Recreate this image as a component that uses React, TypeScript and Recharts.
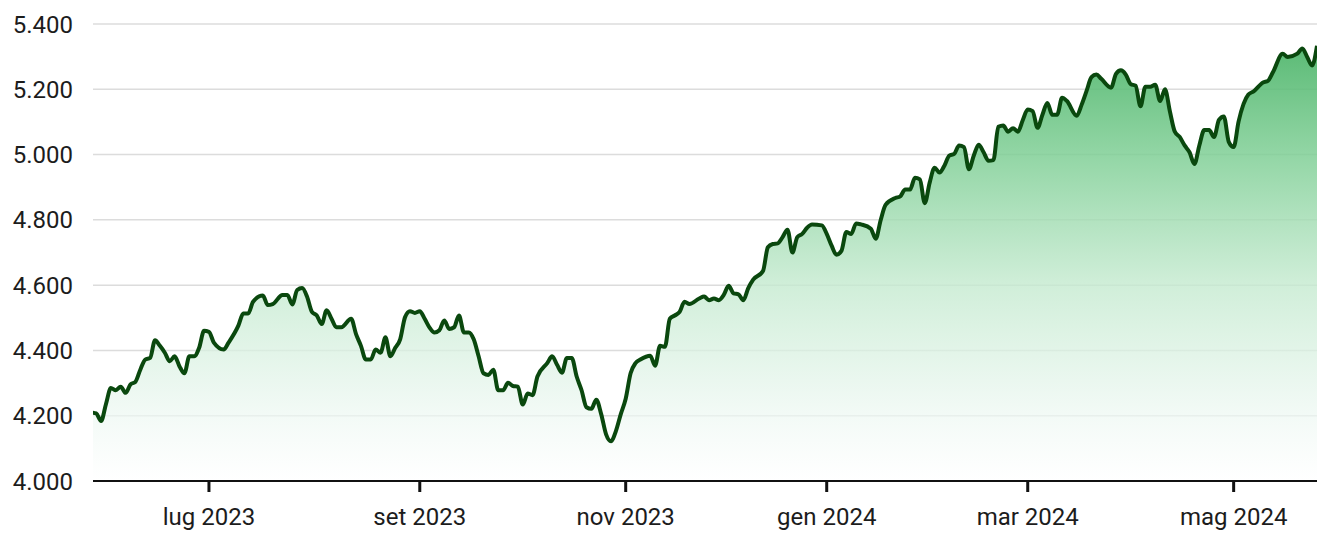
import { AreaChart, Area, XAxis, YAxis, CartesianGrid } from 'recharts';

// trading sessions counted from 3 Jul 2023 (session 0)
const sessions = [
  -24, -23, -22, -21, -20, -19, -18, -17, -16, -15, -14, -13, -12, -11, -10, -9, -8, -7, -6, -5,
  -4, -3, -2, -1, 0, 1, 3, 4, 6, 7, 8, 9, 11, 12, 13, 15, 16, 17, 18, 19,
  20, 21, 22, 23, 24, 25, 26, 27, 29, 30, 31, 32, 33, 34, 35, 36, 37, 38, 39, 40,
  41, 42, 43, 44, 45, 46, 47, 48, 49, 50, 51, 52, 53, 54, 55, 56, 57, 58, 59, 60,
  61, 62, 63, 64, 65, 66, 67, 69, 70, 71, 72, 73, 74, 75, 76, 77, 78, 79, 80, 81,
  82, 83, 84, 85, 86, 87, 88, 90, 91, 92, 93, 94, 95, 96, 97, 98, 100, 101, 102, 103,
  104, 105, 106, 107, 108, 109, 110, 111, 113, 114, 115, 116, 117, 118, 119, 120, 121, 122, 123, 125,
  126, 127, 128, 129, 130, 131, 132, 133, 135, 136, 137, 138, 140, 141, 142, 143, 144, 145, 146, 147,
  148, 149, 150, 151, 152, 153, 154, 155, 156, 157, 158, 159, 160, 161, 162, 163, 164, 165, 166, 167,
  168, 169, 170, 171, 172, 173, 174, 175, 177, 178, 179, 180, 181, 182, 184, 185, 186, 187, 188, 189,
  190, 191, 192, 193, 194, 195, 196, 197, 198, 199, 200, 201, 202, 203, 204, 205, 206, 207, 208, 209,
  210, 212, 213, 215, 216, 217, 219, 220, 222, 223, 224, 225, 226,
];

const values = [
  4210, 4207, 4184, 4236, 4285, 4278, 4289, 4270, 4296, 4304, 4341, 4372, 4377, 4431, 4414, 4393, 4367, 4382, 4351, 4330,
  4382, 4382, 4408, 4460, 4457, 4424, 4403, 4424, 4476, 4513, 4513, 4549, 4568, 4539, 4542, 4570, 4570, 4541, 4585, 4591,
  4565, 4518, 4507, 4481, 4523, 4497, 4471, 4471, 4497, 4450, 4414, 4372, 4372, 4403, 4393, 4440, 4382, 4408, 4434, 4502,
  4520, 4515, 4520, 4497, 4470, 4455, 4462, 4492, 4466, 4471, 4507, 4455, 4455, 4434, 4382, 4330, 4325, 4341, 4278, 4278,
  4301, 4291, 4289, 4234, 4268, 4263, 4320, 4361, 4382, 4356, 4332, 4377, 4377, 4320, 4278, 4226, 4221, 4249, 4205, 4143,
  4122, 4153, 4205, 4252, 4330, 4361, 4372, 4384, 4353, 4414, 4411, 4497, 4507, 4518, 4549, 4542, 4559, 4565, 4554, 4559,
  4554, 4570, 4598, 4575, 4572, 4554, 4591, 4617, 4643, 4716, 4726, 4728, 4747, 4770, 4700, 4747, 4757, 4776, 4786, 4783,
  4757, 4721, 4693, 4705, 4763, 4757, 4789, 4786, 4773, 4742, 4799, 4846, 4867, 4872, 4893, 4893, 4929, 4924, 4851, 4914,
  4960, 4945, 4966, 4997, 5002, 5028, 5023, 4955, 4997, 5030, 5007, 4981, 4983, 5085, 5089, 5070, 5081, 5070, 5106, 5138,
  5133, 5082, 5122, 5158, 5122, 5122, 5174, 5164, 5119, 5153, 5195, 5237, 5245, 5232, 5205, 5247, 5258, 5245, 5216, 5211,
  5148, 5208, 5208, 5214, 5164, 5200, 5132, 5070, 5054, 5028, 5007, 4971, 5028, 5075, 5075, 5054, 5106, 5117, 5039, 5023,
  5101, 5184, 5193, 5221, 5226, 5252, 5309, 5299, 5309, 5325, 5299, 5273, 5333,
];

// first session of each labelled month
const tickSessions = [0, 43, 85, 126, 167, 209];
const tickLabels = ['lug 2023', 'set 2023', 'nov 2023', 'gen 2024', 'mar 2024', 'mag 2024'];
const yTicks = [4000, 4200, 4400, 4600, 4800, 5000, 5200, 5400];

const data = sessions.map((s, i) => ({ session: s, value: values[i] }));

// Italian thousands separator ("5.400"), Intl drops it for 4-digit numbers
const fmtThousands = (v: number) => `${Math.floor(v / 1000)}.${String(v % 1000).padStart(3, '0')}`;

const labelFont = { fontFamily: 'Roboto, Arial, sans-serif', fontSize: 24, fill: '#1c1c1c' };

export default function App() {
  return (
    <div style={{ position: 'absolute', left: 0, top: 0, width: 1317, height: 533, background: '#fff' }}>
      <AreaChart width={1317} height={533} data={data} margin={{ top: 24, right: 0, bottom: 0, left: 0 }}>
        <defs>
          <linearGradient id="spFill" gradientUnits="userSpaceOnUse" x1="0" y1="24" x2="0" y2="481">
            <stop offset="0%" stopColor="#3fae5e" stopOpacity={0.92} />
            <stop offset="29%" stopColor="#80cf96" stopOpacity={0.85} />
            <stop offset="57%" stopColor="#c4eacf" stopOpacity={0.8} />
            <stop offset="86%" stopColor="#eef8f3" stopOpacity={0.7} />
            <stop offset="100%" stopColor="#ffffff" stopOpacity={0.6} />
          </linearGradient>
        </defs>
        <CartesianGrid vertical={false} stroke="#dcdcdc" strokeWidth={1.5} />
        <XAxis
          dataKey="session"
          type="number"
          domain={[-23.65, 226]}
          ticks={tickSessions}
          tickFormatter={(s) => tickLabels[tickSessions.indexOf(s)] ?? ''}
          height={52}
          stroke="#111"
          strokeWidth={2}
          tickSize={11}
          tickLine={{ stroke: '#111', strokeWidth: 3 }}
          tickMargin={16}
          tick={labelFont}
          interval={0}
          allowDataOverflow
        />
        <YAxis
          type="number"
          domain={[4000, 5400]}
          ticks={yTicks}
          tickFormatter={fmtThousands}
          width={93}
          axisLine={false}
          tickLine={false}
          tickSize={0}
          tickMargin={20}
          tick={labelFont}
          interval={0}
        />
        <Area
          type="monotone"
          dataKey="value"
          stroke="#0a480e"
          strokeWidth={4}
          fill="url(#spFill)"
          fillOpacity={1}
          baseValue={4000}
          dot={false}
          activeDot={false}
          isAnimationActive={false}
        />
      </AreaChart>
    </div>
  );
}
